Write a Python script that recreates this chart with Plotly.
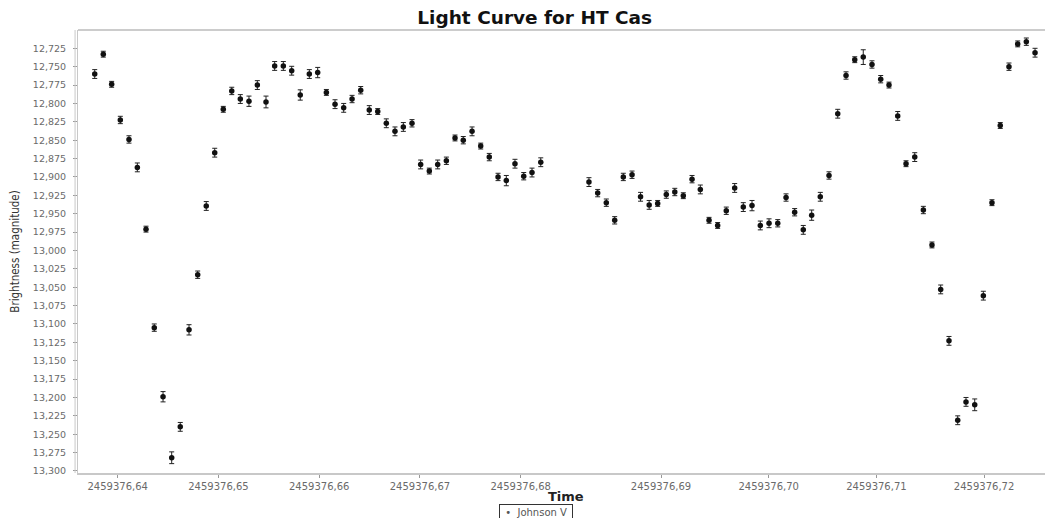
import plotly.graph_objects as go

# Julian date, V magnitude and error
jd = [2459376.63772, 2459376.63857, 2459376.63940, 2459376.64026, 2459376.64112, 2459376.64195,
      2459376.64281, 2459376.64363, 2459376.64450, 2459376.64536, 2459376.64621, 2459376.64708,
      2459376.64794, 2459376.64879, 2459376.64963, 2459376.65048, 2459376.65132, 2459376.65217,
      2459376.65303, 2459376.65386, 2459376.65472, 2459376.65558, 2459376.65644, 2459376.65727,
      2459376.65812, 2459376.65902, 2459376.65985, 2459376.66071, 2459376.66157, 2459376.66243,
      2459376.66326, 2459376.66412, 2459376.66497, 2459376.66581, 2459376.66666, 2459376.66752,
      2459376.66835, 2459376.66921, 2459376.67007, 2459376.67093, 2459376.67176, 2459376.67262,
      2459376.67348, 2459376.67430, 2459376.67517, 2459376.67603, 2459376.67688, 2459376.67775,
      2459376.67857, 2459376.67943, 2459376.68030, 2459376.68112, 2459376.68199,
      2459376.68331, 2459376.68412, 2459376.68492, 2459376.68570, 2459376.68650, 2459376.68731,
      2459376.68810, 2459376.68890, 2459376.68969, 2459376.69049, 2459376.69128, 2459376.69207,
      2459376.69288, 2459376.69365, 2459376.69446, 2459376.69526, 2459376.69606, 2459376.69684,
      2459376.69764, 2459376.69845, 2459376.69922, 2459376.70003, 2459376.70084, 2459376.70161,
      2459376.70241, 2459376.70321, 2459376.70399, 2459376.70479, 2459376.70560, 2459376.70641,
      2459376.70718, 2459376.70799, 2459376.70878, 2459376.70959, 2459376.71040, 2459376.71117,
      2459376.71198, 2459376.71275, 2459376.71356, 2459376.71436, 2459376.71516, 2459376.71597,
      2459376.71674, 2459376.71755, 2459376.71832, 2459376.71913, 2459376.71993, 2459376.72073,
      2459376.72150, 2459376.72231, 2459376.72312, 2459376.72392, 2459376.72473]

mag = [12.760, 12.733, 12.774, 12.8225, 12.849, 12.887, 12.971, 13.105, 13.199, 13.282,
       13.240, 13.108, 13.033, 12.9395, 12.867, 12.808, 12.783, 12.794, 12.797, 12.775,
       12.798, 12.749, 12.749, 12.7555, 12.7885, 12.760, 12.758, 12.785, 12.801, 12.806,
       12.794, 12.782, 12.809, 12.811, 12.827, 12.838, 12.832, 12.827, 12.883, 12.892,
       12.883, 12.878, 12.847, 12.850, 12.838, 12.858, 12.873, 12.900, 12.905, 12.882,
       12.899, 12.894, 12.880,
       12.907, 12.922, 12.935, 12.959, 12.900, 12.897, 12.927, 12.938, 12.936, 12.924,
       12.9205, 12.9255, 12.903, 12.917, 12.959, 12.966, 12.946, 12.915, 12.941, 12.939,
       12.966, 12.963, 12.963, 12.928, 12.948, 12.972, 12.952, 12.927, 12.898, 12.814,
       12.762, 12.7405, 12.737, 12.747, 12.767, 12.775, 12.817, 12.882, 12.873, 12.945,
       12.9925, 13.053, 13.123, 13.231, 13.206, 13.210, 13.0615, 12.935, 12.830, 12.750,
       12.719, 12.716, 12.731]

err = [0.006, 0.004, 0.004, 0.005, 0.005, 0.006, 0.004, 0.005, 0.007, 0.008,
       0.006, 0.007, 0.005, 0.006, 0.006, 0.004, 0.005, 0.006, 0.007, 0.006,
       0.008, 0.006, 0.006, 0.006, 0.007, 0.006, 0.007, 0.004, 0.006, 0.006,
       0.005, 0.005, 0.006, 0.004, 0.006, 0.006, 0.006, 0.005, 0.006, 0.004,
       0.006, 0.005, 0.004, 0.005, 0.006, 0.004, 0.005, 0.005, 0.007, 0.006,
       0.005, 0.006, 0.006,
       0.006, 0.005, 0.005, 0.005, 0.005, 0.005, 0.006, 0.006, 0.004, 0.005,
       0.005, 0.004, 0.005, 0.006, 0.004, 0.004, 0.005, 0.006, 0.006, 0.007,
       0.006, 0.006, 0.005, 0.005, 0.005, 0.006, 0.007, 0.006, 0.005, 0.006,
       0.005, 0.004, 0.010, 0.005, 0.005, 0.004, 0.006, 0.004, 0.006, 0.005,
       0.004, 0.006, 0.006, 0.006, 0.006, 0.008, 0.006, 0.004, 0.004, 0.005,
       0.004, 0.005, 0.006]

left_ticks = [2459376.64, 2459376.65, 2459376.66, 2459376.67, 2459376.68]
right_ticks = [2459376.69, 2459376.70, 2459376.71, 2459376.72]
series_name = 'Johnson V'

# the source picture has a wider gap between ,68 and ,69 than between the other ticks,
# so the time axis is drawn as two pieces with slightly different scales
split_jd = 2459376.6827
left = [i for i in range(len(jd)) if jd[i] < split_jd]
right = [i for i in range(len(jd)) if jd[i] >= split_jd]

marker = dict(color='#111111', size=5.5, symbol='circle')


def err_bars(idx):
    return dict(type='data', array=[err[i] for i in idx], color='#222222', thickness=1, width=2.5)


fig = go.Figure()
fig.add_trace(go.Scatter(x=[jd[i] for i in left], y=[mag[i] for i in left], mode='markers',
                         marker=marker, error_y=err_bars(left), name=series_name,
                         xaxis='x', yaxis='y'))
fig.add_trace(go.Scatter(x=[jd[i] for i in right], y=[mag[i] for i in right], mode='markers',
                         marker=marker, error_y=err_bars(right), name=series_name,
                         xaxis='x2', yaxis='y'))

tick_font = dict(family='DejaVu Sans', size=10, color='#6a6a6a')
xcommon = dict(tickformat='.2f', ticks='outside', ticklen=3, tickcolor='#999999',
               showgrid=False, zeroline=False, showline=True, linecolor='#c8c8c8',
               linewidth=2, tickfont=tick_font, anchor='y', automargin=False)

# page body adds an 8px offset, so the figure is 8px smaller than the window
fig.update_layout(
    width=1045, height=510,
    margin=dict(l=70, r=0, t=22, b=45, autoexpand=False),
    paper_bgcolor='white', plot_bgcolor='white',
    separators=',.',
    showlegend=False,
    title=dict(text='<b>Light Curve for HT Cas</b>', x=0.504, xref='container',
               y=0.994, yref='container', xanchor='center', yanchor='top',
               font=dict(family='DejaVu Sans', size=18.5, color='#111111')),
    xaxis=dict(domain=[0, 0.4995], range=[2459376.63606, 2459376.684397],
               tickvals=left_ticks, **xcommon),
    xaxis2=dict(domain=[0.4995, 1], range=[2459376.681086, 2459376.726398],
                tickvals=right_ticks, **xcommon),
    yaxis=dict(range=[13.30275, 12.7001], tick0=12.725, dtick=0.025, tickformat='.3f',
               ticks='outside', ticklen=4, tickcolor='#999999', ticklabelstandoff=5,
               showgrid=False, zeroline=False, showline=True, linecolor='#c8c8c8',
               linewidth=1, tickfont=dict(family='DejaVu Sans', size=9.5, color='#6a6a6a'),
               automargin=False,
               title=dict(text='Brightness (magnitude)', standoff=40,
                          font=dict(family='Liberation Sans Narrow, DejaVu Sans Condensed, sans-serif',
                                    size=11.5, color='#333333'))),
)

fig.add_annotation(text='<b>Time</b>', xref='paper', yref='paper', x=0.5, y=-0.052,
                   xanchor='center', yanchor='middle', showarrow=False,
                   font=dict(family='DejaVu Sans', size=13, color='#222222'))

# small boxed key under the axis, as in the source chart
fig.add_annotation(text='\u00a0\u2022\u00a0\u00a0' + series_name + '\u00a0', xref='paper', yref='paper',
                   x=0.4697, y=-0.071, xanchor='center', yanchor='top', showarrow=False,
                   bordercolor='#333333', borderwidth=1, borderpad=2,
                   font=dict(family='DejaVu Sans', size=10, color='#555555'))

# plot outline: light top edge and the doubled left edge of the source
fig.add_shape(type='line', xref='paper', yref='paper', x0=0, x1=1, y0=1, y1=1,
              line=dict(color='#cccccc', width=2))
fig.add_shape(type='line', xref='paper', yref='paper', x0=-0.003, x1=-0.003, y0=0, y1=1,
              line=dict(color='#c8c8c8', width=1))

fig.write_html("out.html")
